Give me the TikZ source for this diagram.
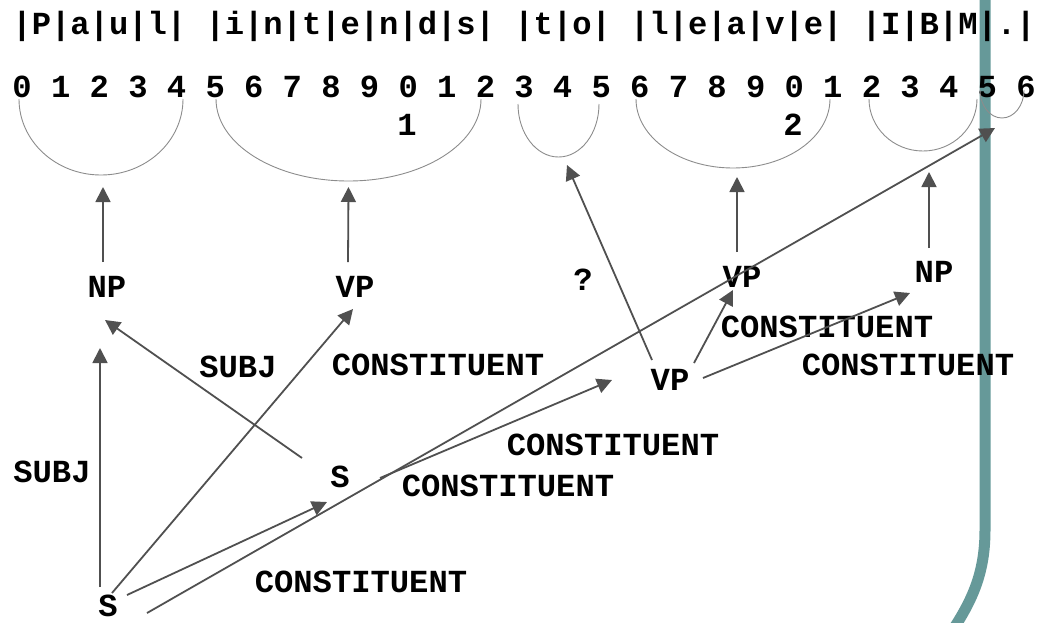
\documentclass[tikz,border=0pt]{standalone}
\usepackage{fontspec}
\newfontfamily\dgmfont{Liberation Mono}
\usetikzlibrary{arrows.meta}
\definecolor{tealbar}{RGB}{102,153,153}
\definecolor{arrowgray}{RGB}{80,80,80}
\definecolor{arcgray}{RGB}{140,140,140}
\begin{document}
\begin{tikzpicture}[x=1pt,y=-1pt,
  lbl/.style={font=\dgmfont\bfseries\fontsize{32.17}{36}\selectfont, inner sep=0pt, anchor=base},
  row/.style={lbl, anchor=base west},
  arr/.style={draw=arrowgray, line width=1.8pt, -{Triangle[length=15pt,width=15pt]}},
  span/.style={draw=arcgray, line width=0.9pt},
]
\useasboundingbox (0,0) rectangle (1039,622);

% decorative side rule
\draw[tealbar, line width=11pt] (985,-10) -- (985,530) .. controls (985,572) and (973,600) .. (950,634);

% character string and offsets
\node[row] (chars) at (12.3,34) {|P|a|u|l| |i|n|t|e|n|d|s| |t|o| |l|e|a|v|e| |I|B|M|.|};
\node[row] (units) at (12.3,97) {0 1 2 3 4 5 6 7 8 9 0 1 2 3 4 5 6 7 8 9 0 1 2 3 4 5 6};
\node[lbl] (tens1) at (407,135) {1};
\node[lbl] (tens2) at (793,135) {2};

% word spans
\draw[span] (19,99) arc[start angle=180,end angle=0,x radius=82,y radius=76];
\coordinate (aPaul) at (101,175);
\draw[span] (216,99) arc[start angle=180,end angle=0,x radius=132.5,y radius=82];
\coordinate (aIntends) at (348.5,181);
\draw[span] (518,104) arc[start angle=180,end angle=0,x radius=40.5,y radius=53];
\coordinate (aTo) at (558.5,157);
\draw[span] (636,99) arc[start angle=180,end angle=0,x radius=97,y radius=69];
\coordinate (aLeave) at (733,168);
\draw[span] (869,99) arc[start angle=180,end angle=0,x radius=54,y radius=52];
\coordinate (aIBM) at (923,151);
\draw[span] (980,90) arc[start angle=180,end angle=0,x radius=22,y radius=28];
\coordinate (aDot) at (1002,118);

% categories
\node[lbl] (NP1) at (107,297) {NP};
\node[lbl] (VP1) at (355,297) {VP};
\node[lbl] (Q) at (583,290) {?};
\node[lbl] (VP2) at (742,287) {VP};
\node[lbl] (NP2) at (934,282) {NP};
\node[lbl] (VP3) at (670,390) {VP};
\node[lbl] (S1) at (340,487) {S};
\node[lbl] (S2) at (108,616) {S};

% relation labels
\node[lbl] (subjA) at (52,482) {SUBJ};
\node[lbl] (subjB) at (238,377) {SUBJ};
\node[lbl] (consA) at (438,375) {CONSTITUENT};
\node[lbl] (consB) at (361,592) {CONSTITUENT};
\node[lbl] (consC) at (613,455) {CONSTITUENT};
\node[lbl] (consD) at (508,496) {CONSTITUENT};
\node[lbl] (consE) at (827,337) {CONSTITUENT};
\node[lbl] (consF) at (908,375) {CONSTITUENT};

% links
\draw[arr] ([shift={(-4,-35)}]NP1.base) -- ([shift={(2,12)}]aPaul);
\draw[arr] ([shift={(-7,-35)}]VP1.base) -- ([shift={(0,6)}]aIntends);
\draw[arr] ([shift={(-18,-30)}]VP3.base) -- ([shift={(8.5,8)}]aTo);
\draw[arr] ([shift={(-5,-35)}]VP2.base) -- ([shift={(4,9)}]aLeave);
\draw[arr] ([shift={(-5,-34)}]NP2.base) -- ([shift={(6,21)}]aIBM);
\draw[arr] ([shift={(39,-3)}]S2.base) -- ([shift={(-7,10)}]aDot);
\draw[arr] ([shift={(4,-23)}]S2.base) -- ([shift={(-2,12)}]VP1.base);
\draw[arr] ([shift={(-8,-29)}]S2.base) -- ([shift={(-7,51)}]NP1.base);
\draw[arr] ([shift={(19,-21)}]S2.base) -- ([shift={(-13,15)}]S1.base);
\draw[arr] ([shift={(-38,-29)}]S1.base) -- ([shift={(-2,23)}]NP1.base);
\draw[arr] ([shift={(40,-9)}]S1.base) -- ([shift={(-58,-10)}]VP3.base);
\draw[arr] ([shift={(24,-27)}]VP3.base) -- ([shift={(-9,3)}]VP2.base);
\draw[arr] ([shift={(33,-12)}]VP3.base) -- ([shift={(-24,11)}]NP2.base);
\end{tikzpicture}
\end{document}
